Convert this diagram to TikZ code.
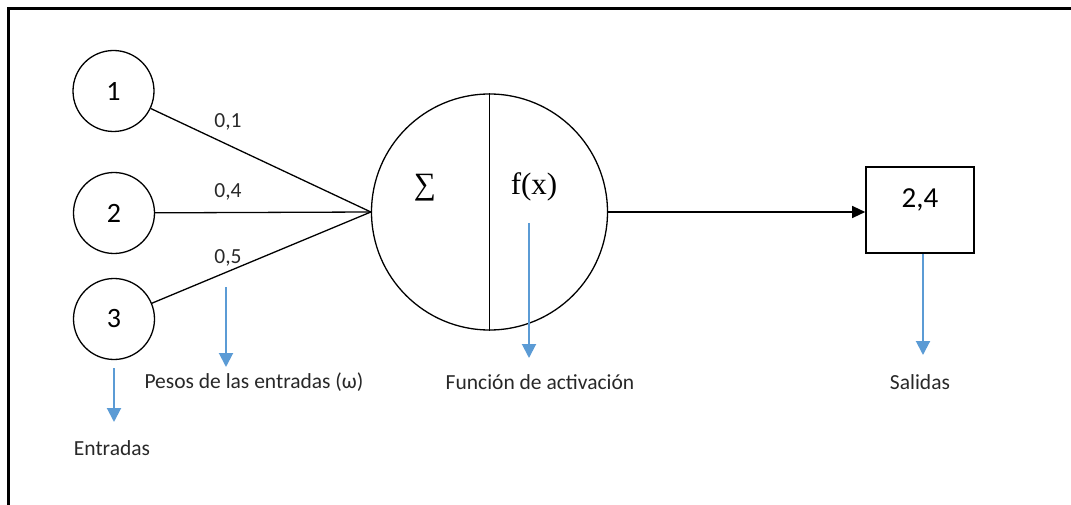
\documentclass[tikz,border=0pt]{standalone}
\usepackage{fontspec}
\setmainfont{Carlito}
\newfontfamily\tnr{Liberation Serif}
\usetikzlibrary{arrows.meta}
\definecolor{arrowblue}{RGB}{91,155,213}
\definecolor{txtgray}{RGB}{40,40,40}
\begin{document}
\begin{tikzpicture}[x=1pt,y=-1pt,
  inode/.style={draw,circle,line width=1.3pt,minimum size=81pt,inner sep=0pt,font=\fontsize{28}{30}\selectfont},
  neuron/.style={draw,circle,line width=1.3pt,minimum size=236pt,inner sep=0pt},
  outbox/.style={draw,line width=1.6pt,minimum width=108pt,minimum height=86pt,inner sep=0pt},
  wlbl/.style={font=\fontsize{21.5}{24}\selectfont,text=txtgray,inner sep=0pt},
  lbl/.style={font=\fontsize{21.5}{24}\selectfont,text=txtgray,inner sep=0pt},
  bluearr/.style={draw=arrowblue,line width=2pt,-{Triangle[length=14pt,width=14pt,fill=arrowblue]}},
  conn/.style={line width=1.3pt}
]
\useasboundingbox (0,0) rectangle (1071,505);
\draw[line width=3pt] (8.5,505) -- (8.5,8.5) -- (1071,8.5);

\node[inode] (i1) at (113.5,91) {1};
\node[inode] (i2) at (114,213) {2};
\node[inode] (i3) at (114,319) {3};

\node[neuron] (n) at (489.5,212) {};
\draw[conn] (n.north) -- (n.south);
\node[inner sep=0pt,font=\tnr\fontsize{31}{33}\selectfont] (sig) at (425,188) {∑};
\node[inner sep=0pt,font=\tnr\fontsize{31}{33}\selectfont] (fx) at (534,187) {f(x)};

\draw[conn] (i1) -- (n.west);
\draw[conn] (i2) -- (n.west);
\draw[conn] (i3) -- (n.west);

\node[wlbl] (w1) at (228,122) {0,1};
\node[wlbl] (w2) at (228,192) {0,4};
\node[wlbl] (w3) at (228,258) {0,5};

\node[outbox] (o) at (920,210) {};
\node[inner sep=0pt,font=\fontsize{29}{31}\selectfont] (ov) at (920,200) {2,4};
\draw[conn,-{Triangle[length=13pt,width=12pt]}] (n.east) -- (n.east -| o.west);

\node[lbl] (le) at (112,448) {Entradas};
\node[lbl] (lp) at (254,382) {Pesos de las entradas (ω)};
\node[lbl] (lf) at (540,382) {Función de activación};
\node[lbl] (ls) at (920,382) {Salidas};

\coordinate (ea) at (114,422);
\coordinate (pa) at (226,287);
\coordinate (pb) at (226,367);
\coordinate (fa) at (529,223);
\coordinate (fb) at (529,358);
\coordinate (sb) at (923,355);

\draw[bluearr] ([yshift=-8pt]i3.south) -- (ea);
\draw[bluearr] (pa) -- (pb);
\draw[bluearr] (fa) -- (fb);
\draw[bluearr] ([xshift=3pt]o.south) -- (sb);
\end{tikzpicture}
\end{document}
